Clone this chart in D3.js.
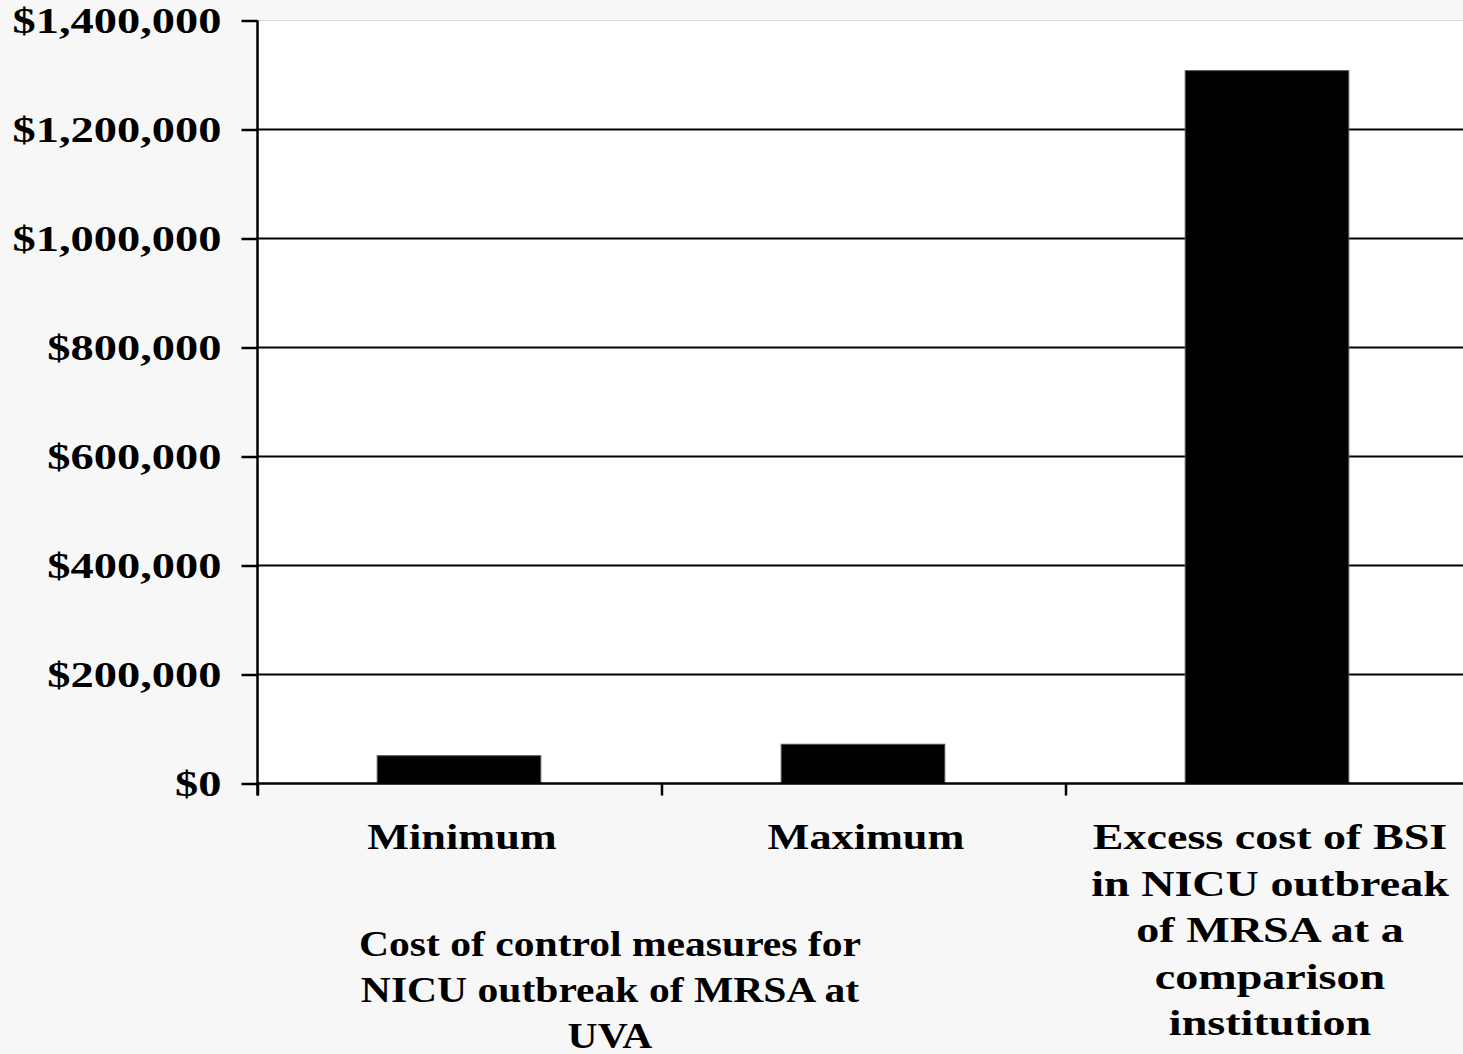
<!DOCTYPE html>
<html>
<head>
<meta charset="utf-8">
<script src="https://cdn.jsdelivr.net/npm/d3@7"></script>
<style>
html,body{margin:0;padding:0;background:#f7f7f7;}
svg{display:block;}
text{font-family:"Liberation Serif","Times New Roman",serif;font-weight:bold;fill:#000;}
</style>
</head>
<body>
<svg id="chart" width="1463" height="1054"></svg>
<script>
const categories = ["Minimum", "Maximum", "Excess cost of BSI in NICU outbreak of MRSA at a comparison institution"];
const categoryLines = [["Minimum"], ["Maximum"], ["Excess cost of BSI", "in NICU outbreak", "of MRSA at a", "comparison", "institution"]];
const values = [51000, 72000, 1308000];
const yTicks = [0, 200000, 400000, 600000, 800000, 1000000, 1200000, 1400000];
const groupLabelLines = ["Cost of control measures for", "NICU outbreak of MRSA at", "UVA"];

const svg = d3.select("#chart");
const pLeft = 258, pRight = 1470, pTop = 20.5, pBottom = 783.5;

const x = d3.scaleBand().domain(categories).range([pLeft, pRight]).padding(0);
const y = d3.scaleLinear().domain([0, 1400000]).range([pBottom, pTop]);

function stretch(sel, factor) {
  sel.each(function () {
    const w = this.getComputedTextLength();
    d3.select(this).attr("textLength", w * factor).attr("lengthAdjust", "spacingAndGlyphs");
  });
}

// plot area
svg.append("rect").attr("x", pLeft).attr("y", pTop).attr("width", pRight - pLeft).attr("height", pBottom - pTop)
  .attr("fill", "#fff").attr("stroke", "#d8d8d8").attr("stroke-width", 1);

// gridlines
svg.append("g").selectAll("line").data(yTicks.filter(d => d > 0 && d < 1400000)).join("line")
  .attr("x1", pLeft).attr("x2", pRight).attr("y1", d => y(d)).attr("y2", d => y(d))
  .attr("stroke", "#000").attr("stroke-width", 2);

// bars
const bw = x.bandwidth() * 0.405;
svg.append("g").selectAll("rect").data(values).join("rect")
  .attr("x", (d, i) => x(categories[i]) + x.bandwidth() / 2 - bw / 2 - 1)
  .attr("y", d => y(d))
  .attr("width", bw)
  .attr("height", d => y(0) - y(d))
  .attr("fill", "#000").attr("stroke", "#555").attr("stroke-width", 1);

// y axis
const yAxis = d3.axisLeft(y).tickValues(yTicks).tickSize(16).tickPadding(20)
  .tickFormat(d => "$" + d3.format(",")(d));
const gy = svg.append("g").attr("transform", `translate(${pLeft - 0.5},0)`).call(yAxis);
gy.select(".domain").attr("stroke", "#000").attr("stroke-width", 2.5).attr("d", `M0,${pTop}V${pBottom + 12}`);
gy.selectAll(".tick line").attr("stroke", "#000").attr("stroke-width", 2.5);
gy.selectAll(".tick text").attr("font-size", 36).attr("font-family", "Liberation Serif").attr("font-weight", "bold").attr("dy", "0.34em");
stretch(gy.selectAll(".tick text"), 1.29);

// x axis
const xTickPositions = [pLeft, pLeft + x.step(), pLeft + 2 * x.step()];
const gx = svg.append("g");
gx.append("line").attr("x1", pLeft).attr("x2", pRight).attr("y1", pBottom).attr("y2", pBottom).attr("stroke", "#000").attr("stroke-width", 2.5);
gx.selectAll("line.t").data(xTickPositions).join("line").attr("class", "t")
  .attr("x1", d => d).attr("x2", d => d).attr("y1", pBottom).attr("y2", pBottom + 12)
  .attr("stroke", "#000").attr("stroke-width", 2.5);

// category labels
categoryLines.forEach((lines, i) => {
  const cx = x(categories[i]) + x.bandwidth() / 2 + 2;
  const lg = svg.append("g");
  lines.forEach((ln, j) => {
    lg.append("text").attr("text-anchor", "middle").attr("font-size", 36)
      .attr("x", cx).attr("y", 849 + j * 46.5).text(ln);
  });
  stretch(lg.selectAll("text"), i === 2 ? 1.28 : 1.23);
});

// group label
const groupG = svg.append("g");
groupLabelLines.forEach((ln, j) => {
  groupG.append("text").attr("text-anchor", "middle").attr("font-size", 36)
    .attr("x", 610).attr("y", 956 + j * 46).text(ln);
});
stretch(groupG.selectAll("text"), 1.155);
</script>
</body>
</html>
